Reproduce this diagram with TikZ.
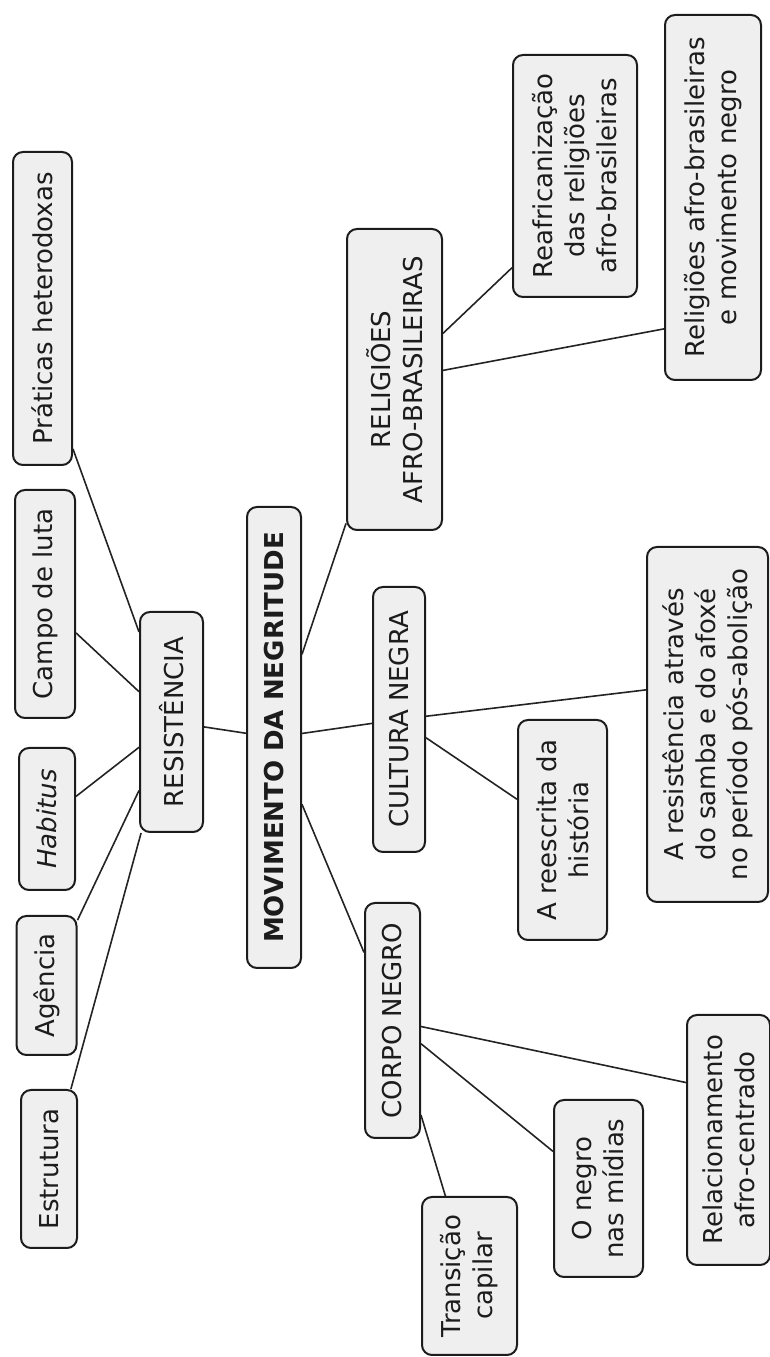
\documentclass[tikz,border=0pt]{standalone}
\usepackage{fontspec}
\setmainfont{DejaVu Sans}
\usetikzlibrary{calc}
\definecolor{NegInk}{RGB}{28,28,28}
\definecolor{NegFill}{RGB}{239,239,239}
\definecolor{NegLine}{RGB}{35,35,35}
\tikzset{
  neg/box/.style={
    draw=NegInk,
    line width=1pt,
    rounded corners=5pt,
    fill=NegFill,
    align=center,
    text=NegInk,
    inner sep=2pt,
    font=\fontsize{13}{16}\selectfont
  },
  neg/main/.style={neg/box, font=\fontsize{13}{16}\selectfont\bfseries},
  neg/size/.style 2 args={minimum width=#1*0.5pt, minimum height=#2*0.5pt},
  neg/link/.style={draw=NegLine, line width=0.8pt}
}

\begin{document}
\begin{tikzpicture}[x=0.5pt,y=0.5pt]
% the map is laid out lying down and turned upright
\begin{scope}[shift={(770,0)},rotate=90,transform shape]
  \useasboundingbox (0,0) rectangle (1357,770);
  % centre and first ring
  \node[neg/main,neg/size={461}{54}] (mov) at (619.5,496) {MOVIMENTO DA NEGRITUDE};
  \node[neg/box,neg/size={220}{63}] (res) at (635,598.5) {RESISTÊNCIA};
  \node[neg/box,neg/size={301}{95}] (relig) at (977.5,375.5) {RELIGIÕES\\AFRO-BRASILEIRAS};
  \node[neg/box,neg/size={265}{52}] (cult) at (637.5,371) {CULTURA NEGRA};
  \node[neg/box,neg/size={235}{55}] (corpo) at (336.5,377.5) {CORPO NEGRO};
  % resistencia
  \node[neg/box,neg/size={313}{59}] (prat) at (1048.5,727.5) {Práticas heterodoxas};
  \node[neg/box,neg/size={228}{60}] (campo) at (753,725) {Campo de luta};
  \node[neg/box,neg/size={142}{56}] (habitus) at (538,723) {\textit{Habitus}};
  \node[neg/box,neg/size={139}{60}] (agencia) at (371.5,723.5) {Agência};
  \node[neg/box,neg/size={158}{56}] (estrut) at (188,721) {Estrutura};
  % religioes
  \node[neg/box,neg/size={242}{124}] (reafr) at (1181,195) {Reafricanização\\das religiões\\afro-brasileiras};
  \node[neg/box,neg/size={365}{96}] (relmov) at (1159.5,57) {Religiões afro-brasileiras\\e movimento negro};
  % cultura
  \node[neg/box,neg/size={355}{121}] (samba) at (632.5,62.5) {A resistência através\\do samba e do afoxé\\no período pós-abolição};
  \node[neg/box,neg/size={220}{89}] (reesc) at (527,207.5) {A reescrita da\\história};
  % corpo
  \node[neg/box,neg/size={158}{95}] (trans) at (81,300.5) {Transição\\capilar};
  \node[neg/box,neg/size={177}{89}] (midia) at (168.5,171.5) {O negro\\nas mídias};
  \node[neg/box,neg/size={250}{83}] (relac) at (217,41.5) {Relacionamento\\afro-centrado};

  \foreach \sub in {res,relig,cult,corpo}
    \draw[neg/link] (mov) -- (\sub);
  \draw[neg/link] (res) -- ($(prat.south west)!0.054!(prat.south east)$);
  \foreach \leaf in {campo,habitus,agencia,estrut}
    \draw[neg/link] (res) -- (\leaf);
  \draw[neg/link] (relig) -- ($(reafr.north west)!0.124!(reafr.north east)$);
  \draw[neg/link] (relig) -- ($(relmov.north west)!0.142!(relmov.north east)$);
  \draw[neg/link] (cult) -- ($(samba.north west)!0.597!(samba.north east)$);
  \draw[neg/link] (cult) -- (reesc);
  \draw[neg/link] (corpo) -- (trans);
  \draw[neg/link] (corpo) -- (midia);
  \draw[neg/link] (corpo) -- ($(relac.north west)!0.728!(relac.north east)$);
\end{scope}
\end{tikzpicture}
\end{document}
